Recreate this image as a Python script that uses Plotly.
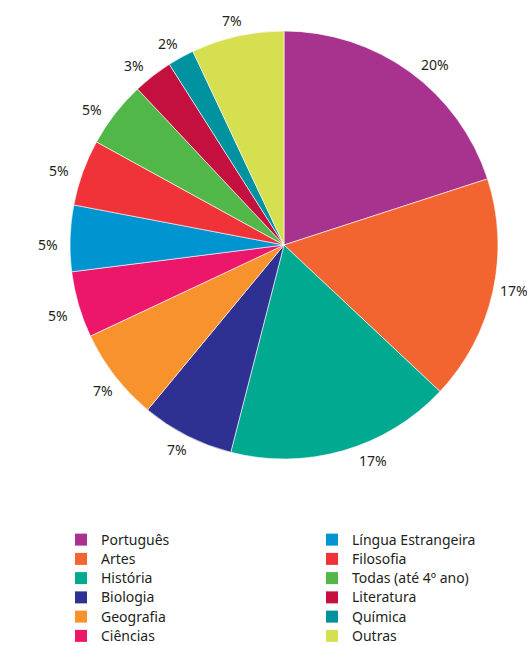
import math
import plotly.graph_objects as go

# Share of answers by school subject (%)
subjects = ["Português", "Artes", "História", "Biologia", "Geografia", "Ciências",
            "Língua Estrangeira", "Filosofia", "Todas (até 4º ano)", "Literatura",
            "Química", "Outras"]
shares = [20, 17, 17, 7, 7, 5, 5, 5, 5, 3, 2, 7]
colors = ["#a8338f", "#f26531", "#00a98f", "#2e3192", "#f7922c", "#ec176a",
          "#0095d0", "#ef3339", "#50b748", "#c4103f", "#00929e", "#d6df4f"]

W, H = 527, 645
CX, CY, R = 284, 245, 214
LABEL_R = 233
FONT = "Noto Sans"
TEXT = "#231f20"

# Small pixel adjustments to the outside labels so none crowd a slice edge
label_nudge = [(14, 8), (3, -5), (24, -8), (-1, -3), (3, 3), (-2, 5),
               (-3, 7), (-6, 4), (-8, 7), (-7, 5), (-4, 3), (-1, 3)]

fig = go.Figure()
fig.add_trace(go.Pie(
    labels=subjects, values=shares, sort=False, direction="clockwise",
    rotation=0, textinfo="none", hoverinfo="label+percent",
    marker=dict(colors=colors, line=dict(color="white", width=0.6)),
    domain=dict(x=[(CX - R) / W, (CX + R) / W], y=[1 - (CY + R) / H, 1 - (CY - R) / H]),
    showlegend=False,
))

# Percentage labels placed outside each slice, at its mid angle
total = sum(shares)
cum = 0
for v, (dx, dy) in zip(shares, label_nudge):
    mid = (cum + v / 2) / total * 2 * math.pi
    cum += v
    px = CX + LABEL_R * math.sin(mid) + dx
    py = CY - LABEL_R * math.cos(mid) + dy
    fig.add_annotation(x=px / W, y=1 - py / H, xref="paper", yref="paper",
                       xanchor="center", yanchor="middle",
                       text=f"{v}%", showarrow=False,
                       font=dict(family=FONT, size=14, color=TEXT))

# Two-column legend built from proxy entries
half = len(subjects) // 2
for i, (name, c) in enumerate(zip(subjects, colors)):
    fig.add_trace(go.Scatter(
        x=[None], y=[None], mode="markers",
        name=f"<span style='font-size:14px'>{name}</span>",
        marker=dict(symbol="square", size=12, color=c),
        legend="legend" if i < half else "legend2",
        hoverinfo="skip",
    ))

legend_style = dict(font=dict(family=FONT, size=12.5, color=TEXT),
                    bgcolor="rgba(0,0,0,0)", orientation="v",
                    xanchor="left", yanchor="top", tracegroupgap=0,
                    itemsizing="constant")

fig.update_layout(
    width=W, height=H,
    margin=dict(l=0, r=0, t=0, b=0, autoexpand=False),
    paper_bgcolor="white", plot_bgcolor="white",
    xaxis=dict(visible=False), yaxis=dict(visible=False),
    legend=dict(x=61 / W, y=1 - 525 / H, **legend_style),
    legend2=dict(x=312 / W, y=1 - 525 / H, **legend_style),
)

fig.write_html("out.html")
